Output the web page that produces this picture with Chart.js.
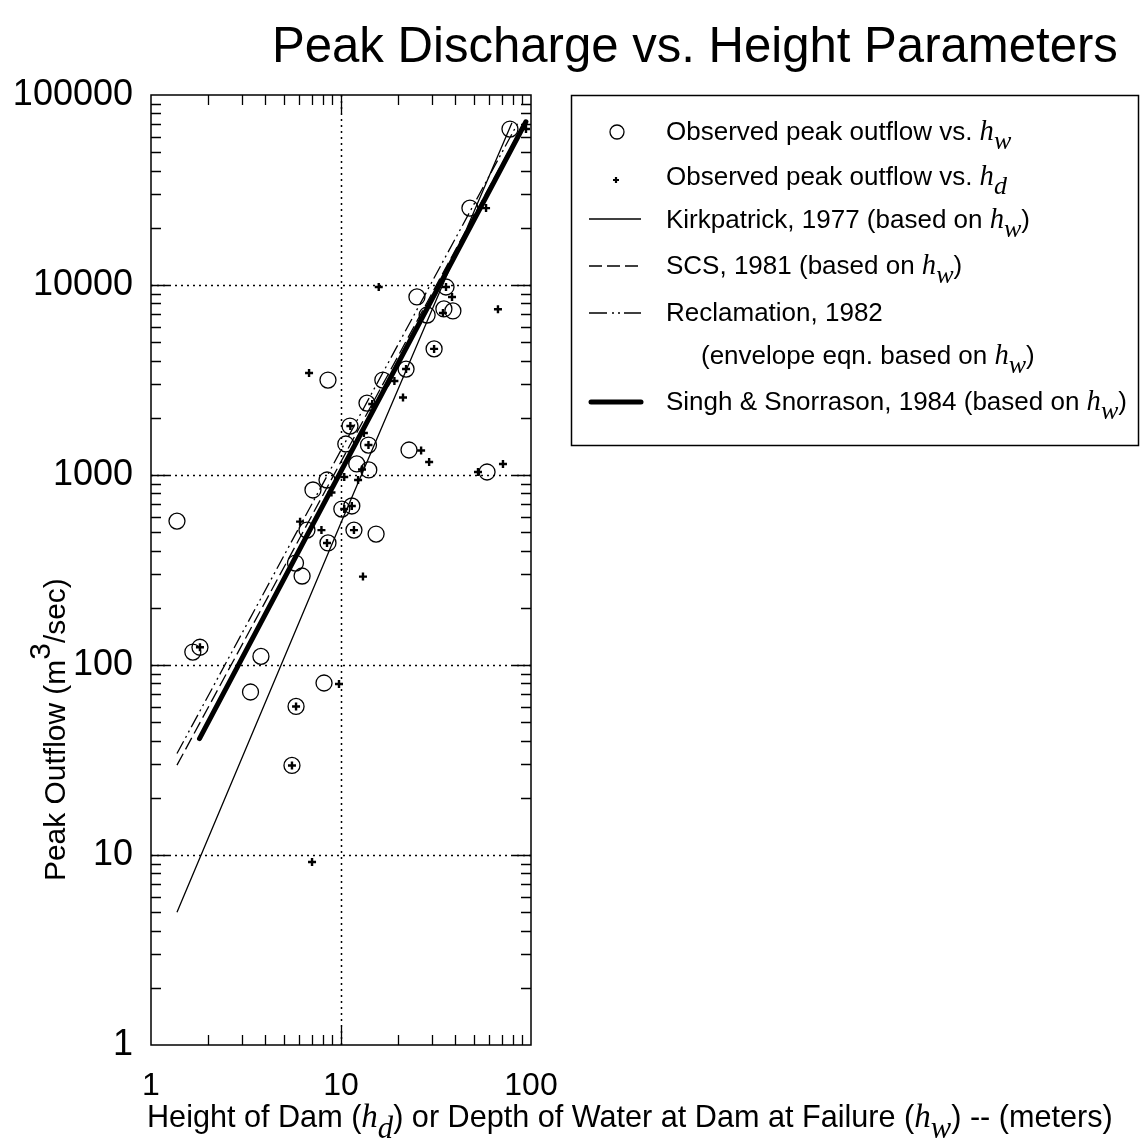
<!DOCTYPE html>
<html><head><meta charset="utf-8">
<script src="https://cdn.jsdelivr.net/npm/chart.js@4.4.1/dist/chart.umd.min.js"></script>
<style>html,body{margin:0;padding:0;background:#fff;}#wrap{width:1140px;height:1145px;position:relative;}</style>
</head><body><div id="wrap"><canvas id="c" width="1140" height="1145"></canvas></div>
<script>
// ---- data ----
const xTicks = [1, 10, 100];
const yTicks = [1, 10, 100, 1000, 10000, 100000];

// observed peak outflow vs. h_w (circles)
const hwX = [77.5, 47.7, 35.7, 25.1, 34.8, 38.8, 28.4, 30.9, 22.0, 16.6, 13.7, 8.54, 11.15, 10.6, 13.95, 22.8, 12.1, 14.0, 58.7, 8.44, 7.12, 10.1, 11.4, 6.62, 11.7, 15.3, 8.54, 1.37, 5.76, 6.24, 1.66, 1.81, 3.79, 3.34, 8.14, 5.80, 5.52];
const hwQ = [66200, 25400, 9760, 8650, 7480, 7300, 6950, 4610, 3610, 3160, 2390, 3160, 1810, 1456, 1438, 1354, 1143, 1063, 1037, 941, 834, 662, 687, 513, 513, 489, 439, 572, 344, 294, 117, 124, 111, 72.1, 80.4, 60.5, 29.6];

// observed peak outflow vs. h_d (plus signs)
const hdX = [94.1, 58.0, 35.7, 15.8, 38.4, 34.4, 67.0, 30.9, 22.0, 19.1, 21.2, 14.6, 6.79, 11.2, 13.2, 13.95, 26.4, 29.1, 12.9, 12.3, 10.4, 52.6, 71.2, 8.91, 11.4, 10.4, 6.09, 7.89, 11.7, 8.44, 13.05, 1.81, 9.76, 5.80, 5.52, 7.04];
const hdQ = [66200, 25400, 9760, 9760, 8650, 7120, 7450, 4610, 3610, 3125, 2558, 2364, 3443, 1810, 1664, 1438, 1346, 1170, 1069, 941, 976, 1037, 1143, 809, 687, 662, 568, 513, 513, 439, 292, 124, 79.4, 60.5, 29.6, 9.19];

// prediction lines
const kirkX = [1.37, 10, 79.4];
const kirkQ = [5, 560, 71500];
const scsX = [1.37, 90];
const scsQ = [29.7, 68500];
const reclX = [1.37, 85];
const reclQ = [34.2, 70800];
const singhX = [1.8, 94];
const singhQ = [41, 72300];

const pts = (xs, ys) => xs.map((x, i) => ({x: x, y: ys[i]}));

const SANS = '"Liberation Sans", Arial, Helvetica, sans-serif';
const SERIF = '"Liberation Serif", "Times New Roman", serif';

function fontOf(seg, base) {
  const sz = base * (seg.k || 1);
  if (seg.f === 'i') return 'italic ' + sz + 'px ' + SERIF;
  return sz + 'px ' + SANS;
}
function richWidth(ctx, segs, base) {
  let w = 0;
  segs.forEach(s => { ctx.font = fontOf(s, base); w += ctx.measureText(s.t).width; });
  return w;
}
function drawRich(ctx, segs, base, x, y) {
  ctx.textAlign = 'left';
  ctx.textBaseline = 'alphabetic';
  segs.forEach(s => {
    ctx.font = fontOf(s, base);
    ctx.fillText(s.t, x, y + (s.dy || 0) * base);
    x += ctx.measureText(s.t).width;
  });
  return x;
}
function fitSize(ctx, segs, target) {
  const w = richWidth(ctx, segs, 100);
  return 100 * target / w;
}

const decorPlugin = {
  id: 'decor',
  beforeDatasetsDraw(chart) {
    const ctx = chart.ctx, a = chart.chartArea;
    const xs = chart.scales.x, ys = chart.scales.y;
    ctx.save();
    ctx.strokeStyle = '#000';
    ctx.lineWidth = 1.5;
    ctx.setLineDash([2, 4]);
    xTicks.slice(1, -1).forEach(v => {
      const p = Math.round(xs.getPixelForValue(v)) + 0.5;
      ctx.beginPath(); ctx.moveTo(p, a.top); ctx.lineTo(p, a.bottom); ctx.stroke();
    });
    yTicks.slice(1, -1).forEach(v => {
      const p = Math.round(ys.getPixelForValue(v)) + 0.5;
      ctx.beginPath(); ctx.moveTo(a.left, p); ctx.lineTo(a.right, p); ctx.stroke();
    });
    ctx.restore();
  },
  afterDatasetsDraw(chart) {
    const ctx = chart.ctx, a = chart.chartArea;
    const xs = chart.scales.x, ys = chart.scales.y;
    ctx.save();
    ctx.strokeStyle = '#000';
    ctx.setLineDash([]);
    ctx.lineWidth = 1.5;
    ctx.strokeRect(a.left, a.top, a.right - a.left, a.bottom - a.top);
    ctx.lineWidth = 1.3;
    const major = 18, minor = 10;
    for (let d = 0; d < xTicks.length - 1; d++) {
      for (let m = 1; m <= 9; m++) {
        if (m === 1 && d === 0) continue;
        const v = xTicks[d] * m;
        const len = m === 1 ? major : minor;
        const p = Math.round(xs.getPixelForValue(v)) + 0.5;
        ctx.beginPath();
        ctx.moveTo(p, a.bottom); ctx.lineTo(p, a.bottom - len);
        ctx.moveTo(p, a.top); ctx.lineTo(p, a.top + len);
        ctx.stroke();
      }
    }
    for (let d = 0; d < yTicks.length - 1; d++) {
      for (let m = 1; m <= 9; m++) {
        if (m === 1 && d === 0) continue;
        const v = yTicks[d] * m;
        const len = m === 1 ? major : minor;
        const p = Math.round(ys.getPixelForValue(v)) + 0.5;
        ctx.beginPath();
        ctx.moveTo(a.left, p); ctx.lineTo(a.left + len, p);
        ctx.moveTo(a.right, p); ctx.lineTo(a.right - len, p);
        ctx.stroke();
      }
    }
    ctx.restore();
  },
  afterDraw(chart) {
    const ctx = chart.ctx;
    ctx.save();
    ctx.fillStyle = '#000';
    ctx.strokeStyle = '#000';
    // title
    const tSegs = [{t: 'Peak Discharge vs. Height Parameters'}];
    const tSize = fitSize(ctx, tSegs, 846);
    drawRich(ctx, tSegs, tSize, 272, 62);

    // x axis title
    const xSegs = [
      {t: 'Height of Dam ('}, {t: 'h', f: 'i', k: 1.08}, {t: 'd', f: 'i', k: 1.0, dy: 0.36},
      {t: ') or Depth of Water at Dam at Failure ('}, {t: 'h', f: 'i', k: 1.08}, {t: 'w', f: 'i', k: 1.0, dy: 0.36},
      {t: ') -- (meters)'}
    ];
    const xSize = fitSize(ctx, xSegs, 966);
    drawRich(ctx, xSegs, xSize, 147, 1127);

    // y axis title (rotated)
    const ySegs = [{t: 'Peak Outflow (m'}, {t: '3', dy: -0.5}, {t: '/sec)'}];
    const ySize = fitSize(ctx, ySegs, 303);
    ctx.save();
    ctx.translate(65, 881);
    ctx.rotate(-Math.PI / 2);
    drawRich(ctx, ySegs, ySize, 0, 0);
    ctx.restore();

    // legend box
    ctx.lineWidth = 1.5;
    ctx.setLineDash([]);
    ctx.strokeRect(571.5, 95.5, 567, 350);
    const lx0 = 589, lx1 = 641, tx = 666, fs = 26;
    const hw = [{t: 'h', f: 'i', k: 1.1}, {t: 'w', f: 'i', k: 1.0, dy: 0.36}];
    const hd = [{t: 'h', f: 'i', k: 1.1}, {t: 'd', f: 'i', k: 1.0, dy: 0.36}];
    ctx.lineWidth = 1.3;
    ctx.beginPath(); ctx.arc(617, 132, 7, 0, Math.PI * 2); ctx.stroke();
    drawRich(ctx, [{t: 'Observed peak outflow vs. '}].concat(hw), fs, tx, 140);
    ctx.lineWidth = 2.2;
    ctx.beginPath(); ctx.moveTo(613, 180); ctx.lineTo(619, 180); ctx.moveTo(616, 177); ctx.lineTo(616, 183); ctx.stroke();
    drawRich(ctx, [{t: 'Observed peak outflow vs. '}].concat(hd), fs, tx, 185);
    ctx.lineWidth = 1.3;
    ctx.beginPath(); ctx.moveTo(lx0, 219); ctx.lineTo(lx1, 219); ctx.stroke();
    drawRich(ctx, [{t: 'Kirkpatrick, 1977 (based on '}].concat(hw, [{t: ')'}]), fs, tx, 228);
    ctx.setLineDash([13, 5]);
    ctx.beginPath(); ctx.moveTo(lx0, 266); ctx.lineTo(lx1, 266); ctx.stroke();
    ctx.setLineDash([]);
    drawRich(ctx, [{t: 'SCS, 1981 (based on '}].concat(hw, [{t: ')'}]), fs, tx, 274);
    ctx.setLineDash([18, 5, 2, 4, 2, 4]);
    ctx.beginPath(); ctx.moveTo(lx0, 313); ctx.lineTo(lx1, 313); ctx.stroke();
    ctx.setLineDash([]);
    drawRich(ctx, [{t: 'Reclamation, 1982'}], fs, tx, 321);
    drawRich(ctx, [{t: '(envelope eqn. based on '}].concat(hw, [{t: ')'}]), fs, 701, 364);
    ctx.lineWidth = 5;
    ctx.lineCap = 'round';
    ctx.beginPath(); ctx.moveTo(lx0 + 2, 402); ctx.lineTo(lx1, 402); ctx.stroke();
    drawRich(ctx, [{t: 'Singh & Snorrason, 1984 (based on '}].concat(hw, [{t: ')'}]), fs, tx, 410);
    ctx.restore();
  }
};

const lineDs = (label, xs, ys, extra) => Object.assign({
  label: label, data: pts(xs, ys), showLine: true, pointRadius: 0, pointHoverRadius: 0,
  borderColor: '#000', borderWidth: 1.3, fill: false, tension: 0
}, extra);

new Chart(document.getElementById('c'), {
  type: 'scatter',
  data: {
    datasets: [
      lineDs('Kirkpatrick, 1977 (based on hw)', kirkX, kirkQ, {}),
      lineDs('SCS, 1981 (based on hw)', scsX, scsQ, {borderDash: [13, 5]}),
      lineDs('Reclamation, 1982 (envelope eqn. based on hw)', reclX, reclQ, {borderDash: [14, 4, 2, 4, 2, 4]}),
      lineDs('Singh & Snorrason, 1984 (based on hw)', singhX, singhQ, {borderWidth: 5, borderCapStyle: 'round'}),
      {label: 'Observed peak outflow vs. hw', data: pts(hwX, hwQ), pointStyle: 'circle', pointRadius: 8,
       borderColor: '#000', backgroundColor: 'rgba(0,0,0,0)', borderWidth: 1.3},
      {label: 'Observed peak outflow vs. hd', data: pts(hdX, hdQ), pointStyle: 'cross', pointRadius: 4,
       borderColor: '#000', backgroundColor: '#000', borderWidth: 2.4}
    ]
  },
  options: {
    responsive: false, animation: false, devicePixelRatio: 1,
    layout: {padding: {top: 95, right: 609, left: 0, bottom: 0}},
    plugins: {legend: {display: false}, tooltip: {enabled: false}, title: {display: false}},
    scales: {
      x: {
        type: 'logarithmic', min: 1, max: 100,
        afterBuildTicks: s => { s.ticks = xTicks.map(v => ({value: v})); },
        afterFit: s => { s.height = 100; },
        ticks: {color: '#000', font: {family: SANS, size: 32}, padding: 22, maxRotation: 0, autoSkip: false,
                callback: v => String(v)},
        grid: {display: false, drawTicks: false}, border: {display: false}
      },
      y: {
        type: 'logarithmic', min: 1, max: 100000,
        afterBuildTicks: s => { s.ticks = yTicks.map(v => ({value: v})); },
        afterFit: s => { s.width = 151; },
        ticks: {color: '#000', font: {family: SANS, size: 36}, padding: 18, autoSkip: false,
                callback: v => String(v)},
        grid: {display: false, drawTicks: false}, border: {display: false}
      }
    }
  },
  plugins: [decorPlugin]
});
</script>
</body></html>
